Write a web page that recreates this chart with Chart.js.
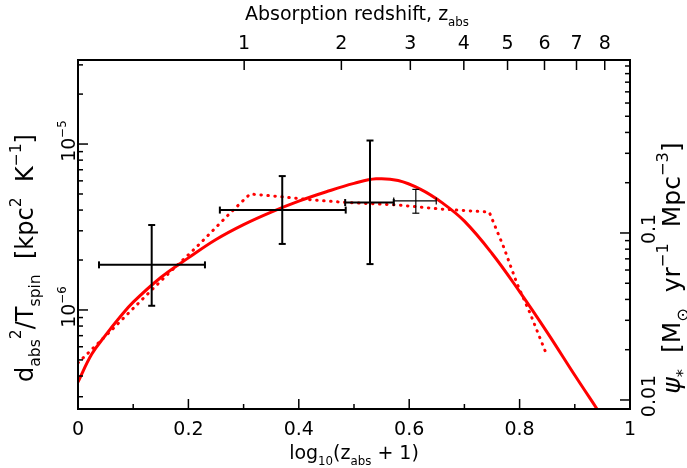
<!DOCTYPE html>
<html><head><meta charset="utf-8">
<script src="https://cdn.jsdelivr.net/npm/chart.js@4/dist/chart.umd.min.js"></script>
<style>html,body{margin:0;padding:0;background:#fff;}canvas{display:block;}</style>
</head><body>
<canvas id="c" width="687" height="468" style="width:687px;height:468px"></canvas>
<script>
// ---- data (x = log10(z_abs+1)) ----
const solidX = [0, 0.025, 0.05, 0.075, 0.1, 0.15, 0.2, 0.25, 0.3, 0.35, 0.4, 0.45, 0.5, 0.54, 0.58, 0.62, 0.66, 0.7, 0.75, 0.8, 0.85, 0.9, 0.94];
const solidY = [3.68e-7, 5.42e-7, 7.05e-7, 8.97e-7, 1.114e-6, 1.57e-6, 2.06e-6, 2.66e-6, 3.27e-6, 3.89e-6, 4.53e-6, 5.16e-6, 5.79e-6, 6.17e-6, 6.03e-6, 5.35e-6, 4.42e-6, 3.43e-6, 2.19e-6, 1.29e-6, 7.33e-7, 4.04e-7, 2.54e-7];
const dotX = [0, 0.058, 0.106, 0.1335, 0.164, 0.215, 0.275, 0.3116, 0.366, 0.426, 0.487, 0.577, 0.656, 0.745, 0.771, 0.795, 0.819, 0.848];
const dotY = [4.80e-7, 7.40e-7, 1.07e-6, 1.32e-6, 1.66e-6, 2.40e-6, 3.82e-6, 5.00e-6, 4.82e-6, 4.60e-6, 4.44e-6, 4.30e-6, 4.06e-6, 3.89e-6, 2.40e-6, 1.45e-6, 9.55e-7, 5.48e-7];
const binX   = [0.1335, 0.370, 0.529, 0.612];
const binXLo = [0.038, 0.257, 0.484, 0.572];
const binXHi = [0.230, 0.485, 0.572, 0.649];
const binY   = [1.87e-6, 4.0e-6, 4.44e-6, 4.54e-6];
const binYLo = [1.06e-6, 2.5e-6, 1.89e-6, 3.83e-6];
const binYHi = [3.25e-6, 6.41e-6, 1.05e-5, 5.33e-6];
const binWidth = [2, 2, 2, 1.2];

// ---- tick definitions ----
const xMajor = [0, 0.2, 0.4, 0.6, 0.8, 1];
const xMajorLabels = ['0', '0.2', '0.4', '0.6', '0.8', '1'];
const xMinor = [0.1, 0.3, 0.5, 0.7, 0.9];
const topZ = [1, 2, 3, 4, 5, 6, 7, 8];
const leftMajor = [1e-6, 1e-5];
const leftMajorExp = ['−6', '−5'];
const leftMinor = [3e-7,4e-7,5e-7,6e-7,7e-7,8e-7,9e-7,2e-6,3e-6,4e-6,5e-6,6e-6,7e-6,8e-6,9e-6,2e-5,3e-5];
const rightMajor = [0.01, 0.1];
const rightMajorLabels = ['0.01', '0.1'];
const rightMinor = [0.02,0.03,0.04,0.05,0.06,0.07,0.08,0.09,0.2,0.3,0.4,0.5,0.6,0.7,0.8,0.9,1];

const FONT = '"DejaVu Sans", sans-serif';

function pts(xs, ys) { return xs.map((x, i) => ({x: x, y: ys[i]})); }

const datasets = [];
for (let i = 0; i < binX.length; i++) {
  datasets.push({
    data: [{x: binXLo[i], y: binY[i]}, {x: binXHi[i], y: binY[i]}],
    showLine: true, borderColor: '#000', borderWidth: binWidth[i],
    pointStyle: 'line', pointRotation: 90, pointRadius: 3.5,
    pointBorderWidth: binWidth[i], pointBorderColor: '#000', order: 0
  });
  datasets.push({
    data: [{x: binX[i], y: binYLo[i]}, {x: binX[i], y: binYHi[i]}],
    showLine: true, borderColor: '#000', borderWidth: binWidth[i],
    pointStyle: 'line', pointRotation: 0, pointRadius: 3.5,
    pointBorderWidth: binWidth[i], pointBorderColor: '#000', order: 0
  });
}
datasets.push({
  data: pts(solidX, solidY), showLine: true, borderColor: '#ff0000', borderWidth: 3,
  pointRadius: 0, tension: 0.4, order: 5
});
datasets.push({
  data: pts(dotX, dotY), showLine: true, borderColor: '#ff0000', borderWidth: 3,
  borderDash: [0.5, 6.5], borderCapStyle: 'round', pointRadius: 0, tension: 0, order: 6
});

function drawRich(ctx, segs, x, y, angle, fs, small) {
  const sm = small || 0.62;
  ctx.save();
  ctx.translate(x, y);
  ctx.rotate(angle);
  ctx.textAlign = 'left';
  ctx.textBaseline = 'alphabetic';
  ctx.fillStyle = '#000';
  const fontFor = s => {
    const size = (s.m === 'sub' || s.m === 'sup') ? fs * sm : fs;
    return (s.style || 'normal') + ' ' + size.toFixed(1) + 'px ' + FONT;
  };
  let total = 0;
  const widths = segs.map(s => { ctx.font = fontFor(s); const w = ctx.measureText(s.t).width; total += w; return w; });
  let cx = -total / 2;
  segs.forEach((s, i) => {
    ctx.font = fontFor(s);
    const dy = s.m === 'sub' ? fs * 0.32 : (s.m === 'sup' ? -fs * 0.48 : 0);
    ctx.fillText(s.t, cx, dy + fs * 0.36);
    cx += widths[i];
  });
  ctx.restore();
}

const axesPlugin = {
  id: 'axesPlugin',
  afterDatasetsDraw(chart) {
    const ctx = chart.ctx, ca = chart.chartArea;
    const xs = chart.scales.x, ys = chart.scales.y, y2 = chart.scales.y2;
    ctx.save();
    ctx.strokeStyle = '#000';
    ctx.lineWidth = 1.5;
    const line = (x1, y1, x2, y2_) => { ctx.beginPath(); ctx.moveTo(x1, y1); ctx.lineTo(x2, y2_); ctx.stroke(); };
    xMajor.forEach(v => { const p = xs.getPixelForValue(v); line(p, ca.bottom, p, ca.bottom - 10); });
    xMinor.forEach(v => { const p = xs.getPixelForValue(v); line(p, ca.bottom, p, ca.bottom - 5); });
    topZ.forEach(z => { const p = xs.getPixelForValue(Math.log10(1 + z)); line(p, ca.top, p, ca.top + 10); });
    leftMajor.forEach(v => { const p = ys.getPixelForValue(v); line(ca.left, p, ca.left + 10, p); });
    leftMinor.forEach(v => { const p = ys.getPixelForValue(v); line(ca.left, p, ca.left + 5, p); });
    rightMajor.forEach(v => { const p = y2.getPixelForValue(v); line(ca.right, p, ca.right - 10, p); });
    rightMinor.forEach(v => { const p = y2.getPixelForValue(v); line(ca.right, p, ca.right - 5, p); });
    ctx.lineWidth = 2;
    ctx.strokeRect(ca.left, ca.top, ca.right - ca.left, ca.bottom - ca.top);
    ctx.restore();

    xMajor.forEach((v, i) => drawRich(ctx, [{t: xMajorLabels[i]}], xs.getPixelForValue(v), 428, 0, 19));
    topZ.forEach(z => drawRich(ctx, [{t: String(z)}], xs.getPixelForValue(Math.log10(1 + z)), 42, 0, 19));
    leftMajor.forEach((v, i) => drawRich(ctx, [{t: '10'}, {t: leftMajorExp[i], m: 'sup'}], 68, ys.getPixelForValue(v) - 3, -Math.PI / 2, 19));
    rightMajor.forEach((v, i) => drawRich(ctx, [{t: rightMajorLabels[i]}], 648, y2.getPixelForValue(v) - 4, -Math.PI / 2, 19));

    drawRich(ctx, [{t: 'log'}, {t: '10', m: 'sub'}, {t: '(z'}, {t: 'abs', m: 'sub'}, {t: ' + 1)'}], (ca.left + ca.right) / 2, 452, 0, 19);
    drawRich(ctx, [{t: 'Absorption redshift, z'}, {t: 'abs', m: 'sub'}], 357, 13, 0, 19);
    drawRich(ctx, [{t: 'd'}, {t: 'abs', m: 'sub'}, {t: '2', m: 'sup'}, {t: '/T'}, {t: 'spin', m: 'sub'}, {t: '  [kpc'}, {t: '2', m: 'sup'}, {t: '  K'}, {t: '−1', m: 'sup'}, {t: ']'}], 24, 258, -Math.PI / 2, 24, 0.65);
    drawRich(ctx, [{t: 'ψ', style: 'italic'}, {t: '*', m: 'sub'}, {t: '  [M'}, {t: '⊙', m: 'sub'}, {t: '  yr'}, {t: '−1', m: 'sup'}, {t: '  Mpc'}, {t: '−3', m: 'sup'}, {t: ']'}], 671, 268, -Math.PI / 2, 25, 0.65);
  }
};

new Chart(document.getElementById('c'), {
  type: 'scatter',
  data: {datasets: datasets},
  options: {
    responsive: false, animation: false, devicePixelRatio: 1, events: [],
    layout: {padding: {left: 78, right: 57, top: 60, bottom: 59}},
    plugins: {legend: {display: false}, tooltip: {enabled: false}},
    scales: {
      x: {type: 'linear', position: 'bottom', min: 0, max: 1, display: false},
      y: {type: 'logarithmic', position: 'left', min: 2.53e-7, max: 3.21e-5, display: false, bounds: 'data'},
      y2: {type: 'logarithmic', position: 'right', min: 0.00883, max: 1.086, display: false, bounds: 'data'}
    }
  },
  plugins: [axesPlugin]
});
</script>
</body></html>
